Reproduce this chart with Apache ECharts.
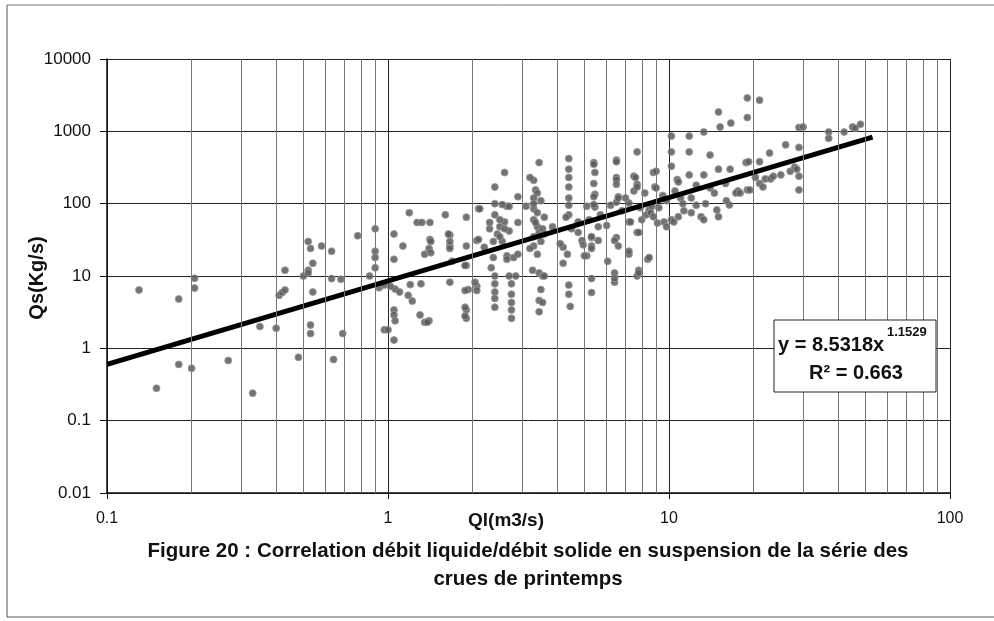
<!DOCTYPE html>
<html>
<head>
<meta charset="utf-8">
<script src="https://cdn.jsdelivr.net/npm/echarts@6/dist/echarts.min.js"></script>
<style>
  html, body { margin: 0; background: #fff; }
  #chart { width: 994px; height: 621px; }
</style>
</head>
<body>
<div id="chart"></div>
<script>
// Ql (m3/s) and Qs (Kg/s)
const qlValues = [
  0.13, 0.18, 0.205, 0.205, 0.18, 0.2, 0.15, 0.27, 0.33, 0.35, 0.4, 0.43, 0.41, 0.42, 0.43, 0.48, 0.5, 0.52, 0.54, 0.52,
  0.53, 0.58, 0.63, 0.52, 0.54, 0.53, 0.53, 0.64, 0.63, 0.68, 0.69, 0.78, 0.9, 0.9, 0.9, 0.9, 0.86, 0.93, 0.97, 0.97,
  1.05, 1.05, 1.13, 1.19, 1.27, 1.32, 1.41, 1.41, 1.4, 1.35, 1.06, 1.1, 1.18, 1.2, 1.31, 1.22, 1.3, 1.4, 1.35, 1.05,
  1.05, 1.06, 1.05, 1.0, 1.02, 1.42, 1.42, 1.38,
  1.6, 1.9, 2.1, 2.4, 2.65, 2.5, 2.7, 2.45, 2.55, 1.66, 1.66, 1.9, 2.07, 2.37, 2.37, 2.65, 2.8, 1.69, 1.9, 2.33,
  2.4, 2.7, 2.85, 1.66, 1.93, 2.07, 2.04, 2.4, 2.4, 2.4, 2.4, 2.75, 2.75, 2.75, 2.75, 2.75, 1.9, 1.9, 1.88, 1.88,
  1.88, 2.07, 2.6, 2.4, 2.6, 2.4, 2.55, 2.7, 2.12, 2.9, 1.64, 1.66, 1.66, 2.1, 1.88, 2.65, 2.5, 2.6, 2.3, 2.2, 2.9,
  3.45, 4.4, 3.3, 3.2, 3.35, 3.4, 3.3, 3.1, 3.3, 3.3, 3.4, 3.3, 3.4, 3.2, 3.27, 3.45, 3.55, 3.6, 3.5, 3.45, 3.55, 3.45,
  3.3, 3.45, 3.55, 3.35, 3.6, 3.5, 3.85, 4.4, 4.4, 4.4, 4.4, 4.4, 4.4, 4.3, 4.2, 4.35, 4.2, 4.4, 4.4, 4.45, 4.75, 4.75,
  4.9, 4.95, 5.1, 5.1, 5.0,
  5.3, 5.4, 5.4, 5.45, 5.4, 5.45, 5.4, 5.45, 5.4, 5.3, 5.3, 5.3, 5.3, 5.3, 5.6, 5.6, 6.0, 6.05, 6.5, 6.5, 6.5, 6.5,
  6.5, 6.6, 6.5, 6.6, 6.5, 6.6, 6.4, 6.4, 6.4, 6.4, 7.2, 7.2, 7.2, 7.2, 7.3, 7.5, 7.5, 7.6, 7.7, 7.7, 7.7, 7.7, 7.7,
  7.8, 7.8, 7.8, 7.9, 8.0, 8.3, 8.4, 8.5, 8.5, 8.6, 8.7, 8.8, 8.8, 8.9, 9.0, 9.0, 9.1, 9.2, 9.6, 9.8, 9.8,
  10.2, 10.2, 10.2, 10.7, 10.8, 10.2, 10.4, 10.8, 11, 11.3, 11.8, 11.8, 11.8, 12, 13, 13.3, 13.3, 13.3, 14, 14, 14.8,
  15, 15, 15, 15.2, 15.9, 16.4, 16.5, 16.6, 17.6, 17.3, 17.9, 18.8, 19, 19, 19, 19.4, 21, 21, 19.2, 22.8, 20.3, 21,
  21.6, 22, 23, 23.5, 25, 26, 27, 28, 28.5, 29, 29, 29, 29, 30, 37, 37, 42, 45, 48, 46, 11.2, 12.5,
  3.3, 3.5, 3.6, 3.4, 2.5, 2.9, 2.3, 4.1, 4.5, 5.2, 5.7, 6.2, 6.8, 7.0, 8.2, 9.5, 10.5, 12.5, 14.5, 16, 12, 13.5
];
const qsValues = [
  6.4, 4.8, 9.3, 6.8, 0.6, 0.53, 0.28, 0.68, 0.24, 2.0, 1.9, 12, 5.4, 5.9, 6.4, 0.75, 10, 12, 15, 30,
  24, 26, 22, 11, 6, 2.1, 1.6, 0.7, 9.2, 9, 1.6, 36, 45, 22, 18, 13, 10, 6.9, 7.5, 1.8,
  38, 17, 26, 75, 55, 55, 55, 32, 24, 20, 6.6, 6, 5.4, 7.6, 7.8, 4.5, 2.9, 2.4, 2.3, 3.4,
  2.9, 2.4, 1.3, 1.8, 7.2, 30, 21, 2.3,
  70, 65, 85, 70, 92, 48, 42, 38, 30, 37, 26, 26, 31, 30, 18, 19, 18, 16, 14, 13,
  10, 10, 10, 8.2, 6.5, 7.2, 8.2, 7.8, 6, 4.9, 3.7, 7.8, 5.6, 4.3, 3.4, 2.6, 3.4, 2.6, 3.7, 2.8,
  6.3, 6.3, 270, 170, 56, 100, 97, 92, 85, 125, 38, 30, 24, 32, 14, 17, 35, 45, 45, 25, 20,
  370, 420, 210, 230, 155, 140, 120, 92, 85, 60, 48, 26, 20, 24, 12, 11, 10, 10, 6.5, 4.6, 4.3, 3.2,
  35, 40, 45, 55, 38, 30, 48, 300, 230, 170, 120, 95, 70, 65, 25, 20, 15, 7.5, 5.6, 3.8, 56, 40,
  31, 27, 19, 92, 19,
  34, 370, 350, 270, 190, 135, 125, 90, 97, 35, 26, 24, 9.2, 5.9, 48, 31, 50, 16, 400, 380, 230, 215,
  185, 125, 105, 120, 34, 26, 31, 11, 8.2, 9.3, 56, 102, 20, 22, 56, 240, 150, 230, 520, 185, 170, 40, 10,
  40, 12, 11, 88, 60, 70, 17, 82, 18, 75, 92, 66, 270, 170, 280, 165, 54, 88, 56, 110, 48,
  860, 520, 330, 215, 200, 60, 56, 66, 120, 80, 860, 520, 250, 120, 66, 60, 980, 250, 470, 165, 82,
  66, 300, 1850, 1150, 190, 96, 300, 1300, 150, 140, 140, 370, 1550, 2900, 155, 155, 2700, 380, 380, 500, 230, 190,
  170, 220, 220, 240, 250, 650, 280, 320, 300, 600, 240, 155, 1130, 1150, 980, 800, 980, 1150, 1250, 1100, 100, 95,
  100, 110, 65, 75, 60, 55, 55, 28, 45, 60, 70, 95, 80, 120, 140, 130, 150, 180, 140, 110, 75, 100
];

// regression printed on the figure: y = 8.5318 x^1.1529
const trendCoef = 8.5318;
const trendExp = 1.1529;
const trendRange = [0.1, 53];

// Excel minor vertical gridlines
const minorGridX = [
  0.2, 0.3, 0.4, 0.5, 0.6, 0.7, 0.8, 0.9,
  2, 3, 4, 5, 6, 7, 8, 9,
  20, 30, 40, 50, 60, 70, 80, 90
];

const chart = echarts.init(document.getElementById('chart'));

const points = qlValues.map((x, i) => [x, qsValues[i]]);
const trendLine = trendRange.map(x => [x, trendCoef * Math.pow(x, trendExp)]);

const fmt = v => String(+v.toPrecision(6));
const textFont = 'Liberation Sans, Arial, sans-serif';

chart.setOption({
  animation: false,
  backgroundColor: '#fff',
  grid: { left: 107, right: 44, top: 59, bottom: 128 },
  xAxis: {
    type: 'log',
    logBase: 10,
    min: 0.1,
    max: 100,
    axisLine: { show: true, onZero: false, lineStyle: { color: '#111', width: 1.5 } },
    axisTick: { show: true, length: 6, lineStyle: { color: '#111' } },
    axisLabel: { color: '#111', fontSize: 16, fontFamily: textFont, margin: 18, formatter: fmt },
    splitLine: { show: true, lineStyle: { color: '#222', width: 1 } }
  },
  yAxis: {
    type: 'log',
    logBase: 10,
    min: 0.01,
    max: 10000,
    axisLine: { show: true, onZero: false, lineStyle: { color: '#111', width: 1.5 } },
    axisTick: { show: true, length: 7, lineStyle: { color: '#111' } },
    axisLabel: { color: '#111', fontSize: 17, fontFamily: textFont, margin: 16, formatter: fmt },
    splitLine: { show: true, lineStyle: { color: '#222', width: 1 } }
  },
  series: [
    {
      type: 'line',
      data: [],
      silent: true,
      z: 1,
      markLine: {
        silent: true,
        symbol: 'none',
        label: { show: false },
        lineStyle: { color: '#777', width: 1, type: 'solid' },
        data: minorGridX.map(v => ({ xAxis: v }))
      }
    },
    {
      type: 'scatter',
      data: points,
      symbol: 'circle',
      symbolSize: 7,
      z: 3,
      itemStyle: { color: '#5a5a5a', opacity: 0.85, borderColor: '#999', borderWidth: 1 }
    },
    {
      type: 'line',
      data: trendLine,
      symbol: 'none',
      z: 4,
      lineStyle: { color: '#000', width: 5 }
    }
  ],
  graphic: [
    { type: 'line', shape: { x1: 7, y1: 5, x2: 7, y2: 617 }, style: { stroke: '#555', lineWidth: 1 } },
    { type: 'line', shape: { x1: 7, y1: 5, x2: 994, y2: 5 }, style: { stroke: '#777', lineWidth: 1 } },
    { type: 'line', shape: { x1: 7, y1: 617, x2: 994, y2: 617 }, style: { stroke: '#555', lineWidth: 1 } },
    {
      type: 'text', x: 37, y: 278, rotation: Math.PI / 2,
      style: { text: 'Qs(Kg/s)', font: 'bold 20px ' + textFont, fill: '#111', align: 'center', verticalAlign: 'middle' }
    },
    {
      type: 'text', x: 506, y: 521,
      style: { text: 'Ql(m3/s)', font: 'bold 19px ' + textFont, fill: '#111', align: 'center', verticalAlign: 'middle' }
    },
    {
      type: 'text', x: 528, y: 551,
      style: {
        text: 'Figure 20 : Correlation débit liquide/débit solide en suspension de la série des',
        font: 'bold 20.5px ' + textFont, fill: '#111', align: 'center', verticalAlign: 'middle'
      }
    },
    {
      type: 'text', x: 528, y: 579,
      style: { text: 'crues de printemps', font: 'bold 20.5px ' + textFont, fill: '#111', align: 'center', verticalAlign: 'middle' }
    },
    { type: 'rect', z: 100, shape: { x: 774, y: 320, width: 162, height: 72 }, style: { fill: '#fff', stroke: '#222', lineWidth: 1 } },
    { type: 'text', z: 101, x: 778, y: 345, style: { text: 'y = 8.5318x', font: 'bold 20px ' + textFont, fill: '#111', align: 'left', verticalAlign: 'middle' } },
    { type: 'text', z: 101, x: 887, y: 332, style: { text: '1.1529', font: 'bold 13px ' + textFont, fill: '#111', align: 'left', verticalAlign: 'middle' } },
    { type: 'text', z: 101, x: 856, y: 373, style: { text: 'R² = 0.663', font: 'bold 20px ' + textFont, fill: '#111', align: 'center', verticalAlign: 'middle' } }
  ]
});
</script>
</body>
</html>
